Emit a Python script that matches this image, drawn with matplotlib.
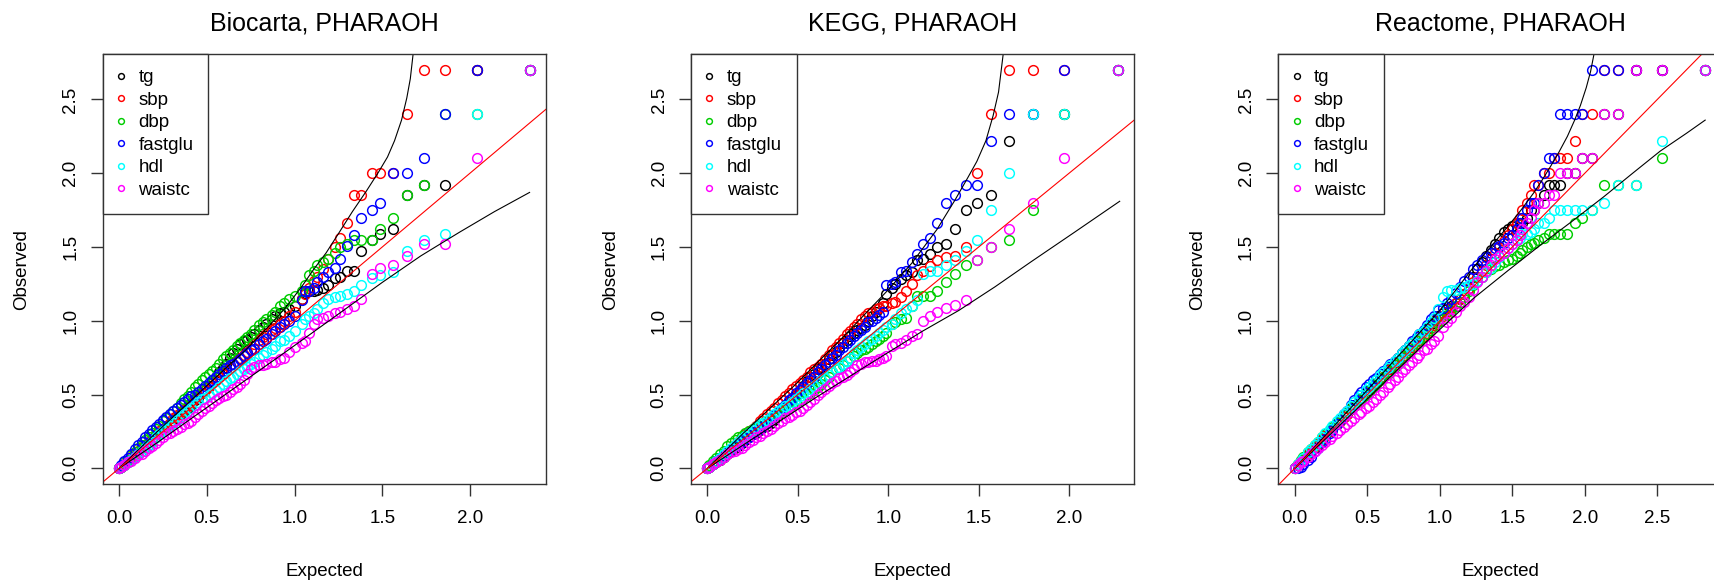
import matplotlib
matplotlib.use("Agg")
import matplotlib.pyplot as plt

plt.rcParams['font.family'] = ['Liberation Sans', 'DejaVu Sans']

traits = ['tg', 'sbp', 'dbp', 'fastglu', 'hdl', 'waistc']
colors = ['black', '#FF0000', '#00CD00', '#0000FF', '#00FFFF', '#FF00FF']

# Biocarta: expected -log10(p) shared by all traits, observed per trait
bio_exp = [2.34, 2.04, 1.86, 1.74, 1.64, 1.56, 1.49, 1.44, 1.38, 1.34,
           1.30, 1.26, 1.23, 1.19, 1.16, 1.13, 1.11, 1.08, 1.06, 1.04,
           1.00, 0.97, 0.94, 0.92, 0.89, 0.87, 0.84, 0.82, 0.80, 0.77,
           0.75, 0.73, 0.71, 0.69, 0.67, 0.65, 0.63, 0.61, 0.59, 0.57,
           0.55, 0.53, 0.51, 0.49, 0.47, 0.45, 0.43, 0.41, 0.39, 0.37,
           0.35, 0.33, 0.31, 0.29, 0.27, 0.25, 0.23, 0.21, 0.19, 0.17,
           0.15, 0.13, 0.11, 0.09, 0.07, 0.05, 0.03, 0.01, 0.00]
bio_tg = [2.70, 2.70, 1.92, 1.92, 1.85, 1.62, 1.59, 1.55, 1.47, 1.34,
          1.34, 1.30, 1.29, 1.24, 1.22, 1.21, 1.20, 1.20, 1.19, 1.15,
          1.10, 1.08, 1.06, 1.05, 1.03, 1.01, 0.98, 0.96, 0.94, 0.91,
          0.89, 0.87, 0.86, 0.84, 0.81, 0.78, 0.75, 0.71, 0.68, 0.65,
          0.62, 0.59, 0.56, 0.53, 0.51, 0.48, 0.46, 0.43, 0.41, 0.39,
          0.37, 0.34, 0.32, 0.30, 0.28, 0.25, 0.23, 0.21, 0.18, 0.16,
          0.14, 0.12, 0.10, 0.08, 0.06, 0.04, 0.02, 0.01, 0.00]
bio_sbp = [2.70, 2.70, 2.70, 2.70, 2.40, 2.00, 2.00, 2.00, 1.85, 1.85,
           1.66, 1.56, 1.50, 1.42, 1.35, 1.30, 1.27, 1.22, 1.18, 1.15,
           1.06, 1.03, 1.00, 0.98, 0.95, 0.94, 0.91, 0.89, 0.87, 0.84,
           0.81, 0.79, 0.77, 0.75, 0.73, 0.71, 0.68, 0.66, 0.64, 0.62,
           0.60, 0.58, 0.55, 0.53, 0.51, 0.49, 0.47, 0.44, 0.42, 0.40,
           0.38, 0.36, 0.34, 0.31, 0.29, 0.27, 0.25, 0.23, 0.20, 0.18,
           0.16, 0.14, 0.12, 0.10, 0.08, 0.05, 0.03, 0.01, 0.00]
bio_dbp = [2.70, 2.40, 2.40, 1.92, 1.85, 1.70, 1.62, 1.55, 1.55, 1.55,
           1.52, 1.50, 1.46, 1.42, 1.40, 1.38, 1.34, 1.31, 1.24, 1.20,
           1.17, 1.15, 1.12, 1.10, 1.06, 1.04, 1.01, 0.99, 0.97, 0.94,
           0.91, 0.89, 0.87, 0.85, 0.83, 0.80, 0.78, 0.76, 0.74, 0.71,
           0.68, 0.66, 0.64, 0.62, 0.60, 0.57, 0.55, 0.52, 0.49, 0.47,
           0.44, 0.41, 0.39, 0.37, 0.34, 0.32, 0.29, 0.27, 0.24, 0.21,
           0.19, 0.16, 0.14, 0.11, 0.09, 0.06, 0.04, 0.01, 0.00]
bio_fastglu = [2.70, 2.70, 2.40, 2.10, 2.00, 2.00, 1.80, 1.75, 1.70, 1.58,
               1.51, 1.42, 1.36, 1.33, 1.30, 1.26, 1.22, 1.20, 1.20, 1.14,
               1.03, 1.00, 0.98, 0.96, 0.93, 0.91, 0.88, 0.86, 0.84, 0.81,
               0.80, 0.78, 0.76, 0.74, 0.72, 0.71, 0.70, 0.68, 0.66, 0.64,
               0.62, 0.60, 0.58, 0.56, 0.54, 0.52, 0.50, 0.49, 0.47, 0.45,
               0.43, 0.41, 0.39, 0.37, 0.35, 0.33, 0.30, 0.28, 0.26, 0.23,
               0.21, 0.18, 0.16, 0.13, 0.10, 0.07, 0.05, 0.02, 0.00]
bio_hdl = [2.70, 2.40, 1.59, 1.55, 1.47, 1.33, 1.31, 1.29, 1.24, 1.20,
           1.18, 1.17, 1.16, 1.15, 1.12, 1.08, 1.05, 1.03, 1.01, 0.98,
           0.93, 0.90, 0.87, 0.86, 0.83, 0.81, 0.79, 0.77, 0.75, 0.72,
           0.71, 0.69, 0.67, 0.66, 0.64, 0.62, 0.61, 0.59, 0.57, 0.55,
           0.53, 0.51, 0.50, 0.48, 0.47, 0.45, 0.43, 0.41, 0.39, 0.37,
           0.35, 0.33, 0.31, 0.29, 0.27, 0.25, 0.23, 0.21, 0.18, 0.16,
           0.14, 0.12, 0.10, 0.08, 0.06, 0.04, 0.02, 0.01, 0.00]
bio_waistc = [2.70, 2.10, 1.52, 1.52, 1.44, 1.38, 1.36, 1.32, 1.15, 1.10,
              1.08, 1.06, 1.05, 1.03, 1.02, 1.01, 0.98, 0.92, 0.86, 0.85,
              0.82, 0.79, 0.75, 0.74, 0.72, 0.72, 0.71, 0.70, 0.70, 0.69,
              0.67, 0.64, 0.60, 0.57, 0.55, 0.54, 0.52, 0.50, 0.49, 0.48,
              0.46, 0.44, 0.42, 0.41, 0.39, 0.37, 0.35, 0.32, 0.31, 0.30,
              0.28, 0.27, 0.25, 0.24, 0.23, 0.21, 0.19, 0.17, 0.15, 0.14,
              0.12, 0.10, 0.09, 0.07, 0.05, 0.04, 0.02, 0.01, 0.00]
bio_up_x = [0.00, 0.20, 0.40, 0.60, 0.72, 0.85, 0.95, 1.04, 1.11, 1.18,
            1.25, 1.33, 1.41, 1.48, 1.53, 1.57, 1.61, 1.64, 1.66, 1.68]
bio_up_y = [0.00, 0.23, 0.45, 0.67, 0.80, 0.96, 1.09, 1.23, 1.35, 1.46,
            1.59, 1.74, 1.88, 2.01, 2.11, 2.22, 2.36, 2.51, 2.64, 2.85]
bio_lo_x = [0.00, 0.20, 0.45, 0.70, 0.95, 1.22, 1.50, 1.72, 1.94, 2.14, 2.34]
bio_lo_y = [0.00, 0.16, 0.37, 0.58, 0.79, 1.02, 1.26, 1.44, 1.60, 1.74, 1.87]

# KEGG
kegg_exp = [2.27, 1.97, 1.80, 1.67, 1.57, 1.49, 1.43, 1.37, 1.32, 1.27,
            1.23, 1.19, 1.16, 1.13, 1.10, 1.07, 1.04, 1.02, 0.99, 0.97,
            0.95, 0.93, 0.91, 0.89, 0.87, 0.85, 0.83, 0.81, 0.79, 0.77,
            0.75, 0.73, 0.71, 0.69, 0.67, 0.65, 0.63, 0.61, 0.59, 0.57,
            0.55, 0.53, 0.51, 0.49, 0.47, 0.45, 0.43, 0.41, 0.39, 0.37,
            0.35, 0.33, 0.31, 0.29, 0.27, 0.25, 0.23, 0.21, 0.19, 0.17,
            0.15, 0.13, 0.11, 0.09, 0.07, 0.05, 0.03, 0.01, 0.00]
kegg_tg = [2.70, 2.40, 2.40, 2.22, 1.85, 1.80, 1.75, 1.62, 1.52, 1.50,
           1.45, 1.42, 1.41, 1.33, 1.31, 1.28, 1.25, 1.22, 1.18, 1.12,
           1.09, 1.06, 1.03, 1.00, 0.97, 0.95, 0.94, 0.92, 0.90, 0.87,
           0.85, 0.82, 0.79, 0.77, 0.74, 0.71, 0.69, 0.67, 0.64, 0.62,
           0.59, 0.56, 0.53, 0.50, 0.48, 0.45, 0.42, 0.39, 0.36, 0.33,
           0.31, 0.29, 0.28, 0.26, 0.24, 0.23, 0.21, 0.19, 0.17, 0.15,
           0.14, 0.12, 0.10, 0.08, 0.06, 0.04, 0.03, 0.01, 0.00]
kegg_sbp = [2.70, 2.70, 2.70, 2.70, 2.40, 2.00, 1.50, 1.44, 1.43, 1.41,
            1.37, 1.34, 1.31, 1.25, 1.20, 1.16, 1.13, 1.12, 1.10, 1.10,
            1.09, 1.08, 1.06, 1.05, 1.03, 1.01, 0.98, 0.96, 0.93, 0.91,
            0.88, 0.85, 0.82, 0.80, 0.77, 0.74, 0.71, 0.69, 0.67, 0.65,
            0.62, 0.60, 0.58, 0.56, 0.54, 0.51, 0.49, 0.46, 0.44, 0.41,
            0.39, 0.37, 0.34, 0.32, 0.29, 0.27, 0.25, 0.23, 0.20, 0.18,
            0.16, 0.13, 0.11, 0.09, 0.07, 0.05, 0.03, 0.01, 0.00]
kegg_dbp = [2.70, 2.40, 1.75, 1.55, 1.50, 1.41, 1.38, 1.32, 1.26, 1.20,
            1.17, 1.17, 1.17, 1.10, 1.02, 1.01, 0.99, 0.98, 0.92, 0.90,
            0.88, 0.86, 0.84, 0.82, 0.81, 0.80, 0.78, 0.76, 0.75, 0.73,
            0.70, 0.68, 0.67, 0.65, 0.62, 0.60, 0.57, 0.55, 0.53, 0.51,
            0.50, 0.48, 0.46, 0.44, 0.43, 0.41, 0.40, 0.38, 0.37, 0.35,
            0.34, 0.32, 0.31, 0.29, 0.28, 0.27, 0.25, 0.24, 0.22, 0.21,
            0.19, 0.17, 0.15, 0.12, 0.10, 0.07, 0.05, 0.02, 0.00]
kegg_fastglu = [2.70, 2.70, 2.40, 2.40, 2.22, 1.92, 1.92, 1.85, 1.80, 1.66,
                1.56, 1.52, 1.45, 1.40, 1.34, 1.33, 1.26, 1.25, 1.24, 1.06,
                1.04, 1.02, 1.00, 0.99, 0.96, 0.94, 0.92, 0.90, 0.87, 0.85,
                0.82, 0.80, 0.77, 0.75, 0.72, 0.70, 0.67, 0.65, 0.62, 0.60,
                0.58, 0.55, 0.53, 0.51, 0.48, 0.46, 0.43, 0.41, 0.38, 0.36,
                0.34, 0.31, 0.29, 0.27, 0.25, 0.23, 0.21, 0.20, 0.18, 0.16,
                0.15, 0.13, 0.11, 0.09, 0.07, 0.05, 0.03, 0.01, 0.00]
kegg_hdl = [2.70, 2.40, 2.40, 2.00, 1.75, 1.55, 1.47, 1.41, 1.38, 1.34,
            1.34, 1.32, 1.14, 1.10, 1.08, 1.05, 1.01, 0.98, 0.96, 0.94,
            0.92, 0.90, 0.88, 0.86, 0.84, 0.82, 0.80, 0.78, 0.75, 0.73,
            0.71, 0.69, 0.67, 0.65, 0.63, 0.61, 0.60, 0.58, 0.56, 0.54,
            0.52, 0.51, 0.49, 0.47, 0.45, 0.43, 0.42, 0.40, 0.39, 0.37,
            0.35, 0.33, 0.31, 0.30, 0.28, 0.26, 0.24, 0.22, 0.20, 0.18,
            0.16, 0.14, 0.12, 0.10, 0.07, 0.05, 0.03, 0.01, 0.00]
kegg_waistc = [2.70, 2.10, 1.80, 1.62, 1.50, 1.41, 1.14, 1.11, 1.09, 1.06,
               1.03, 1.00, 0.91, 0.90, 0.87, 0.85, 0.84, 0.83, 0.76, 0.75,
               0.74, 0.73, 0.73, 0.72, 0.72, 0.71, 0.70, 0.67, 0.65, 0.63,
               0.62, 0.61, 0.59, 0.58, 0.56, 0.54, 0.52, 0.50, 0.47, 0.45,
               0.43, 0.41, 0.39, 0.38, 0.36, 0.35, 0.34, 0.32, 0.31, 0.29,
               0.27, 0.25, 0.24, 0.22, 0.21, 0.19, 0.18, 0.16, 0.14, 0.13,
               0.12, 0.11, 0.10, 0.08, 0.06, 0.04, 0.03, 0.01, 0.00]
kegg_up_x = [0.00, 0.20, 0.48, 0.75, 1.00, 1.13, 1.27, 1.37, 1.44, 1.49,
             1.54, 1.58, 1.61, 1.64]
kegg_up_y = [0.00, 0.24, 0.56, 0.89, 1.21, 1.39, 1.62, 1.82, 1.97, 2.08,
             2.22, 2.39, 2.55, 2.85]
kegg_lo_x = [0.00, 0.30, 0.60, 0.90, 1.19, 1.39, 1.59, 1.79, 2.03, 2.28]
kegg_lo_y = [0.00, 0.24, 0.48, 0.71, 0.93, 1.07, 1.23, 1.40, 1.60, 1.81]

# Reactome
rea_exp = [2.83, 2.53, 2.35, 2.23, 2.13, 2.05, 1.98, 1.93, 1.88, 1.83,
           1.79, 1.75, 1.72, 1.68, 1.65, 1.63, 1.60, 1.57, 1.55, 1.53,
           1.50, 1.47, 1.44, 1.41, 1.38, 1.35, 1.32, 1.29, 1.26, 1.23,
           1.20, 1.17, 1.14, 1.11, 1.08, 1.05, 1.02,
           0.99, 0.96, 0.94, 0.91, 0.89, 0.86, 0.84, 0.81, 0.79, 0.76,
           0.74, 0.71, 0.69, 0.66, 0.64, 0.61, 0.59, 0.56, 0.54, 0.51,
           0.49, 0.46, 0.44, 0.41, 0.39, 0.36, 0.34, 0.31, 0.29, 0.26,
           0.24, 0.21, 0.19, 0.16, 0.14, 0.11, 0.09, 0.06, 0.04, 0.02,
           0.00]
rea_tg = [2.70, 2.70, 2.70, 2.40, 2.40, 2.10, 2.10, 2.00, 2.00, 1.92,
          1.92, 1.92, 1.85, 1.80, 1.75, 1.75, 1.70, 1.66, 1.66, 1.66,
          1.64, 1.62, 1.60, 1.56, 1.52, 1.48, 1.44, 1.40, 1.35, 1.30,
          1.22, 1.18, 1.15, 1.12, 1.10, 1.08, 1.05,
          1.03, 1.00, 0.98, 0.95, 0.93, 0.90, 0.88, 0.85, 0.83, 0.80,
          0.78, 0.75, 0.72, 0.69, 0.67, 0.64, 0.61, 0.58, 0.56, 0.53,
          0.51, 0.48, 0.46, 0.43, 0.41, 0.37, 0.35, 0.32, 0.30, 0.27,
          0.25, 0.22, 0.19, 0.16, 0.14, 0.11, 0.09, 0.06, 0.04, 0.02,
          0.00]
rea_sbp = [2.70, 2.70, 2.70, 2.70, 2.70, 2.40, 2.40, 2.22, 2.10, 2.10,
           2.10, 2.00, 2.00, 1.92, 1.92, 1.85, 1.80, 1.75, 1.70, 1.66,
           1.62, 1.58, 1.54, 1.50, 1.46, 1.42, 1.38, 1.34, 1.30, 1.26,
           1.22, 1.18, 1.15, 1.12, 1.09, 1.06, 1.03,
           1.00, 0.97, 0.95, 0.92, 0.90, 0.87, 0.85, 0.82, 0.80, 0.77,
           0.75, 0.72, 0.70, 0.67, 0.65, 0.62, 0.60, 0.57, 0.55, 0.52,
           0.50, 0.47, 0.45, 0.42, 0.40, 0.37, 0.35, 0.32, 0.30, 0.27,
           0.25, 0.22, 0.20, 0.17, 0.15, 0.12, 0.10, 0.07, 0.05, 0.02,
           0.00]
rea_dbp = [2.70, 2.10, 1.92, 1.92, 1.92, 1.75, 1.70, 1.66, 1.59, 1.59,
           1.59, 1.59, 1.56, 1.55, 1.53, 1.52, 1.50, 1.48, 1.46, 1.44,
           1.42, 1.41, 1.40, 1.38, 1.37, 1.35, 1.33, 1.30, 1.27, 1.24,
           1.20, 1.16, 1.13, 1.10, 1.07, 1.04, 1.01,
           0.99, 0.96, 0.94, 0.91, 0.89, 0.86, 0.84, 0.81, 0.79, 0.76,
           0.74, 0.71, 0.69, 0.66, 0.64, 0.62, 0.60, 0.57, 0.55, 0.52,
           0.50, 0.47, 0.45, 0.42, 0.40, 0.38, 0.36, 0.33, 0.31, 0.28,
           0.26, 0.23, 0.21, 0.18, 0.16, 0.13, 0.11, 0.08, 0.06, 0.03,
           0.00]
rea_fastglu = [2.70, 2.70, 2.70, 2.70, 2.70, 2.70, 2.40, 2.40, 2.40, 2.40,
               2.10, 2.10, 2.00, 1.92, 1.80, 1.80, 1.75, 1.70, 1.66, 1.62,
               1.58, 1.56, 1.53, 1.51, 1.49, 1.46, 1.43, 1.41, 1.38, 1.35,
               1.30, 1.27, 1.23, 1.19, 1.15, 1.12, 1.09,
               1.07, 1.03, 1.01, 0.97, 0.94, 0.91, 0.89, 0.86, 0.83, 0.80,
               0.78, 0.75, 0.73, 0.71, 0.69, 0.66, 0.64, 0.61, 0.60, 0.57,
               0.55, 0.52, 0.50, 0.46, 0.43, 0.39, 0.37, 0.33, 0.30, 0.26,
               0.24, 0.20, 0.18, 0.14, 0.12, 0.08, 0.06, 0.03, 0.01, 0.00,
               0.00]
rea_hdl = [2.70, 2.22, 1.92, 1.92, 1.80, 1.75, 1.75, 1.75, 1.75, 1.75,
           1.75, 1.70, 1.66, 1.66, 1.62, 1.60, 1.59, 1.59, 1.56, 1.55,
           1.52, 1.49, 1.46, 1.43, 1.40, 1.36, 1.33, 1.30, 1.27, 1.25,
           1.24, 1.23, 1.22, 1.21, 1.21, 1.20, 1.16,
           1.08, 1.02, 0.99, 0.96, 0.93, 0.91, 0.88, 0.85, 0.83, 0.80,
           0.78, 0.75, 0.73, 0.70, 0.68, 0.65, 0.63, 0.60, 0.58, 0.55,
           0.53, 0.50, 0.48, 0.45, 0.42, 0.39, 0.37, 0.34, 0.32, 0.29,
           0.27, 0.24, 0.21, 0.18, 0.16, 0.13, 0.11, 0.07, 0.05, 0.03,
           0.00]
rea_waistc = [2.70, 2.70, 2.70, 2.40, 2.40, 2.10, 2.10, 2.00, 2.00, 2.00,
              1.85, 1.85, 1.80, 1.80, 1.75, 1.70, 1.66, 1.62, 1.58, 1.55,
              1.52, 1.49, 1.46, 1.44, 1.42, 1.38, 1.34, 1.30, 1.26, 1.21,
              1.16, 1.13, 1.10, 1.06, 1.02, 0.99, 0.96,
              0.90, 0.86, 0.84, 0.81, 0.80, 0.77, 0.75, 0.72, 0.70, 0.67,
              0.65, 0.62, 0.60, 0.57, 0.55, 0.52, 0.50, 0.47, 0.45, 0.42,
              0.41, 0.38, 0.37, 0.34, 0.32, 0.30, 0.28, 0.26, 0.24, 0.22,
              0.20, 0.18, 0.16, 0.14, 0.12, 0.10, 0.08, 0.05, 0.04, 0.02,
              0.00]
rea_up_x = [0.00, 0.50, 1.00, 1.12, 1.23, 1.35, 1.47, 1.56, 1.65, 1.71,
            1.76, 1.82, 1.88, 1.93, 1.97, 2.01, 2.04, 2.07]
rea_up_y = [0.00, 0.53, 1.07, 1.22, 1.36, 1.50, 1.64, 1.75, 1.87, 1.96,
            2.04, 2.14, 2.25, 2.36, 2.46, 2.58, 2.69, 2.84]
rea_lo_x = [0.00, 0.50, 0.90, 1.23, 1.47, 1.69, 1.92, 2.13, 2.33, 2.52, 2.70, 2.83]
rea_lo_y = [0.00, 0.47, 0.85, 1.15, 1.34, 1.51, 1.68, 1.84, 2.00, 2.15, 2.27, 2.36]

panels = [
    ("Biocarta, PHARAOH", bio_exp,
     [bio_tg, bio_sbp, bio_dbp, bio_fastglu, bio_hdl, bio_waistc],
     (bio_up_x, bio_up_y), (bio_lo_x, bio_lo_y), [0, 0.5, 1.0, 1.5, 2.0]),
    ("KEGG, PHARAOH", kegg_exp,
     [kegg_tg, kegg_sbp, kegg_dbp, kegg_fastglu, kegg_hdl, kegg_waistc],
     (kegg_up_x, kegg_up_y), (kegg_lo_x, kegg_lo_y), [0, 0.5, 1.0, 1.5, 2.0]),
    ("Reactome, PHARAOH", rea_exp,
     [rea_tg, rea_sbp, rea_dbp, rea_fastglu, rea_hdl, rea_waistc],
     (rea_up_x, rea_up_y), (rea_lo_x, rea_lo_y), [0, 0.5, 1.0, 1.5, 2.0, 2.5]),
]

W, H = 1715, 582
ax_left = [102.7, 691.0, 1278.3]
ax_w, ax_h = 443.3, 430.3
ax_bottom = H - 484.3
fs = 13.5
edge = '#333333'

fig = plt.figure(figsize=(W / 100, H / 100), dpi=100)

for i, (title, xexp, obs, up, lo, xt) in enumerate(panels):
    ax = fig.add_axes([ax_left[i] / W, ax_bottom / H, ax_w / W, ax_h / H])
    for name, col, yv in zip(traits, colors, obs):
        ax.plot(xexp, yv, 'o', ls='none', ms=7.0, mfc='none', mec=col,
                mew=1.05, label=name)
    ax.plot(up[0], up[1], color='black', lw=0.8)
    ax.plot(lo[0], lo[1], color='black', lw=0.8)
    ax.axline((0, 0), slope=1, color='red', lw=0.8)

    # R style 4% padding around the points
    ally = [v for yv in obs for v in yv]
    rx = max(xexp) - min(xexp)
    ry = max(ally) - min(ally)
    ax.set_xlim(min(xexp) - 0.04 * rx, max(xexp) + 0.04 * rx)
    ax.set_ylim(min(ally) - 0.04 * ry, max(ally) + 0.04 * ry)

    yt = [0, 0.5, 1.0, 1.5, 2.0, 2.5]
    ax.set_xticks(xt, [f"{v:.1f}" for v in xt])
    ax.set_yticks(yt, [f"{v:.1f}" for v in yt], rotation=90, va='center')
    ax.tick_params(direction='out', length=8.9, width=1.0, color=edge,
                   labelsize=fs)
    ax.tick_params(axis='x', pad=9.5)
    ax.tick_params(axis='y', pad=8)
    for s in ax.spines.values():
        s.set_linewidth(1.0)
        s.set_color(edge)

    ax.set_xlabel("Expected", fontsize=fs)
    ax.xaxis.set_label_coords(0.5, -87 / ax_h)
    ax.xaxis.label.set_va('center')
    ax.set_ylabel("Observed", fontsize=fs)
    ax.yaxis.set_label_coords(-80.7 / ax_w, 0.5)
    ax.yaxis.label.set_va('center')
    ax.text(0.5, 1 + 30 / ax_h, title, transform=ax.transAxes,
            ha='center', va='center', fontsize=18)

    leg = ax.legend(loc='upper left', bbox_to_anchor=(0, 1), borderaxespad=0,
                    fancybox=False, framealpha=1, edgecolor=edge, fontsize=fs,
                    markerscale=0.6, handlelength=0.35, handletextpad=0.75,
                    labelspacing=0.29, borderpad=0.8)
    leg.get_frame().set_linewidth(1.0)

fig.savefig("out.png", dpi=100)
